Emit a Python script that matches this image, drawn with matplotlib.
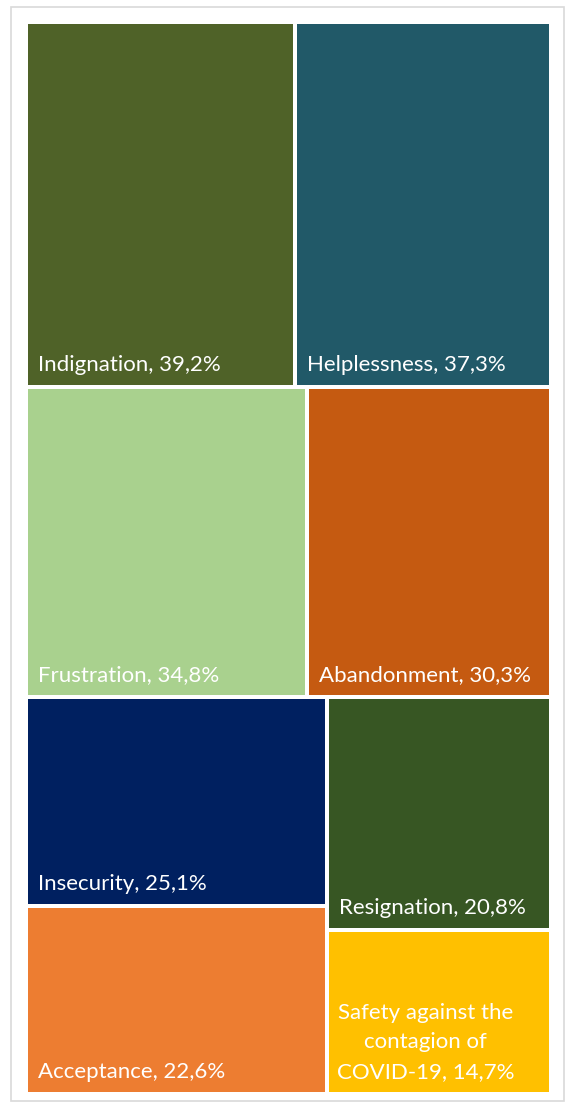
import matplotlib
matplotlib.use("Agg")
import matplotlib.pyplot as plt
from matplotlib.patches import Rectangle

categories = ["Indignation", "Helplessness", "Frustration", "Abandonment",
              "Insecurity", "Acceptance", "Resignation",
              "Safety against the\ncontagion of\nCOVID-19"]
values = [39.2, 37.3, 34.8, 30.3, 25.1, 22.6, 20.8, 14.7]
value_labels = ["39,2%", "37,3%", "34,8%", "30,3%", "25,1%", "22,6%", "20,8%", "14,7%"]
colors = ["#4f6228", "#215968", "#a9d18e", "#c55a11",
          "#002060", "#ed7d31", "#375623", "#ffc000"]

W, H = 566, 1106
fig = plt.figure(figsize=(W / 100, H / 100), dpi=100)
ax = fig.add_axes([0, 0, 1, 1])
ax.set_xlim(0, W)
ax.set_ylim(H, 0)
ax.axis("off")

# outer frame
ax.add_patch(Rectangle((11, 7), 553, 1094, fill=False, edgecolor="#d9d9d9", lw=1.2))

# area for treemap
X0, Y0, X1, Y1 = 26, 22, 551, 1094
gap = 2
total = sum(values)
rects = []
# layout: two horizontal rows, then a block split into two columns
y = Y0
for idx in ([0, 1], [2, 3]):
    s = sum(values[i] for i in idx)
    h = (Y1 - Y0) * s / total
    x = X0
    for i in idx:
        w = (X1 - X0) * values[i] / s
        rects.append((i, x, y, w, h))
        x += w
    y += h
rest_h = Y1 - y
rest_total = sum(values[4:])
x = X0
for idx in ([4, 5], [6, 7]):
    s = sum(values[i] for i in idx)
    w = (X1 - X0) * s / rest_total
    yy = y
    for i in idx:
        h = rest_h * values[i] / s
        rects.append((i, x, yy, w, h))
        yy += h
    x += w

for i, x, y, w, h in rects:
    ax.add_patch(Rectangle((x + gap, y + gap), w - 2 * gap, h - 2 * gap,
                           facecolor=colors[i], edgecolor="none"))
    label = f"{categories[i]}, {value_labels[i]}"
    kw = dict(color="white", fontsize=16, family=["Lato", "DejaVu Sans"],
              ha="left", va="baseline")
    if "\n" in categories[i]:
        kw["multialignment"] = "center"
        kw["linespacing"] = 1.6
        ax.text(x + gap + 8, y + h - gap - 14, label, **kw)
    else:
        ax.text(x + gap + 10, y + h - gap - 14, label, **kw)

fig.savefig("out.png", dpi=100)
